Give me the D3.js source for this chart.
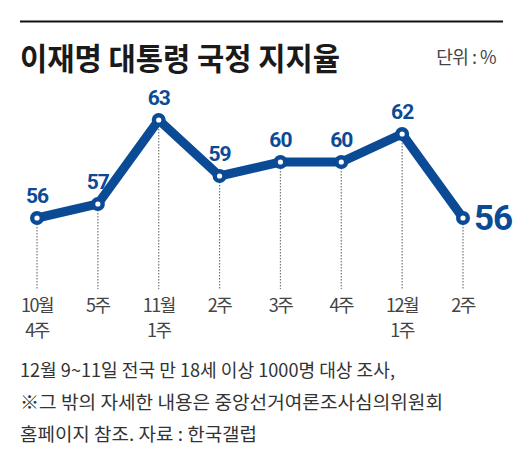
<!DOCTYPE html>
<html><head><meta charset="utf-8">
<script src="https://cdn.jsdelivr.net/npm/d3@7"></script>
<style>
body{margin:0;background:#fff;}
svg{display:block;}
text{font-family:"Noto Sans CJK KR",sans-serif;}
.num{font-family:Roboto,"DejaVu Sans",sans-serif;}
</style></head>
<body><svg id="c" width="531" height="461"></svg>
<script>
const weeks = ["10월\n4주","5주","11월\n1주","2주","3주","4주","12월\n1주","2주"];
const approval = [56,57,63,59,60,60,62,56];
const title = "이재명 대통령 국정 지지율";
const unit = "단위 : %";
const notes = ["12월 9~11일 전국 만 18세 이상 1000명 대상 조사,",
  "※그 밖의 자세한 내용은 중앙선거여론조사심의위원회",
  "홈페이지 참조. 자료 : 한국갤럽"];
const noteWidths = [375, 423, 237];

const svg = d3.select("#c");
const blue = "#0b4a95";

svg.append("line").attr("x1",20).attr("x2",503).attr("y1",21.5).attr("y2",21.5)
  .attr("stroke","#111").attr("stroke-width",2);
svg.append("text").attr("x",20).attr("y",70).text(title)
  .style("font-weight",700).style("font-size","31px")
  .attr("fill","#1a1a1a").attr("textLength",320).attr("lengthAdjust","spacingAndGlyphs");
svg.append("text").attr("x",496).attr("y",64).attr("text-anchor","end").text(unit)
  .style("font-size","18px").attr("fill","#444").attr("letter-spacing","-0.5");

const x = d3.scalePoint().domain(d3.range(weeks.length)).range([37,463]);
const y = d3.scaleLinear().domain([56,63]).range([218,120]);

const axisG = svg.append("g").attr("transform","translate(0,290)")
  .call(d3.axisBottom(x).tickSize(0).tickFormat(""));
axisG.select(".domain").remove();

svg.append("g").selectAll("line").data(approval).join("line")
  .attr("x1",(d,i)=>x(i)).attr("x2",(d,i)=>x(i))
  .attr("y1",d=>y(d)+6).attr("y2",289)
  .attr("stroke","#777").attr("stroke-width",1.2).attr("stroke-dasharray","1.5,1.5");

const tickRows = [];
weeks.forEach((w,i)=>w.split("\n").forEach((p,j)=>tickRows.push({i,j,p})));
svg.append("g").selectAll("text").data(tickRows).join("text")
  .attr("x",d=>x(d.i)).attr("y",d=>312+d.j*25).attr("text-anchor","middle")
  .attr("fill","#444").style("font-size","18px").attr("letter-spacing","-1.5")
  .text(d=>d.p);

const line = d3.line().x((d,i)=>x(i)).y(d=>y(d));
svg.append("path").datum(approval).attr("d",line).attr("fill","none")
  .attr("stroke",blue).attr("stroke-width",9).attr("stroke-linejoin","miter");

svg.append("g").selectAll("circle").data(approval).join("circle")
  .attr("cx",(d,i)=>x(i)).attr("cy",d=>y(d)).attr("r",7).attr("fill",blue);
svg.append("g").selectAll("circle").data(approval).join("circle")
  .attr("cx",(d,i)=>x(i)).attr("cy",d=>y(d)).attr("r",2.6).attr("fill","#fff");

const n = approval.length;
svg.append("g").selectAll("text").data(approval).join("text")
  .attr("class","num")
  .attr("x",(d,i)=> i===n-1 ? x(i)+11 : x(i))
  .attr("y",(d,i)=> i===n-1 ? y(d)+12 : y(d)-15)
  .attr("text-anchor",(d,i)=> i===n-1 ? "start" : "middle")
  .attr("fill",blue).style("font-weight",700)
  .style("font-size",(d,i)=> i===n-1 ? "35px" : "21px")
  .attr("letter-spacing","-1")
  .text(d=>d);

svg.append("g").selectAll("text").data(notes).join("text")
  .attr("x",20).attr("y",(d,i)=>377+i*32).text(d=>d)
  .attr("fill","#333").style("font-size","18px")
  .attr("textLength",(d,i)=>noteWidths[i]).attr("lengthAdjust","spacingAndGlyphs");
</script></body></html>
